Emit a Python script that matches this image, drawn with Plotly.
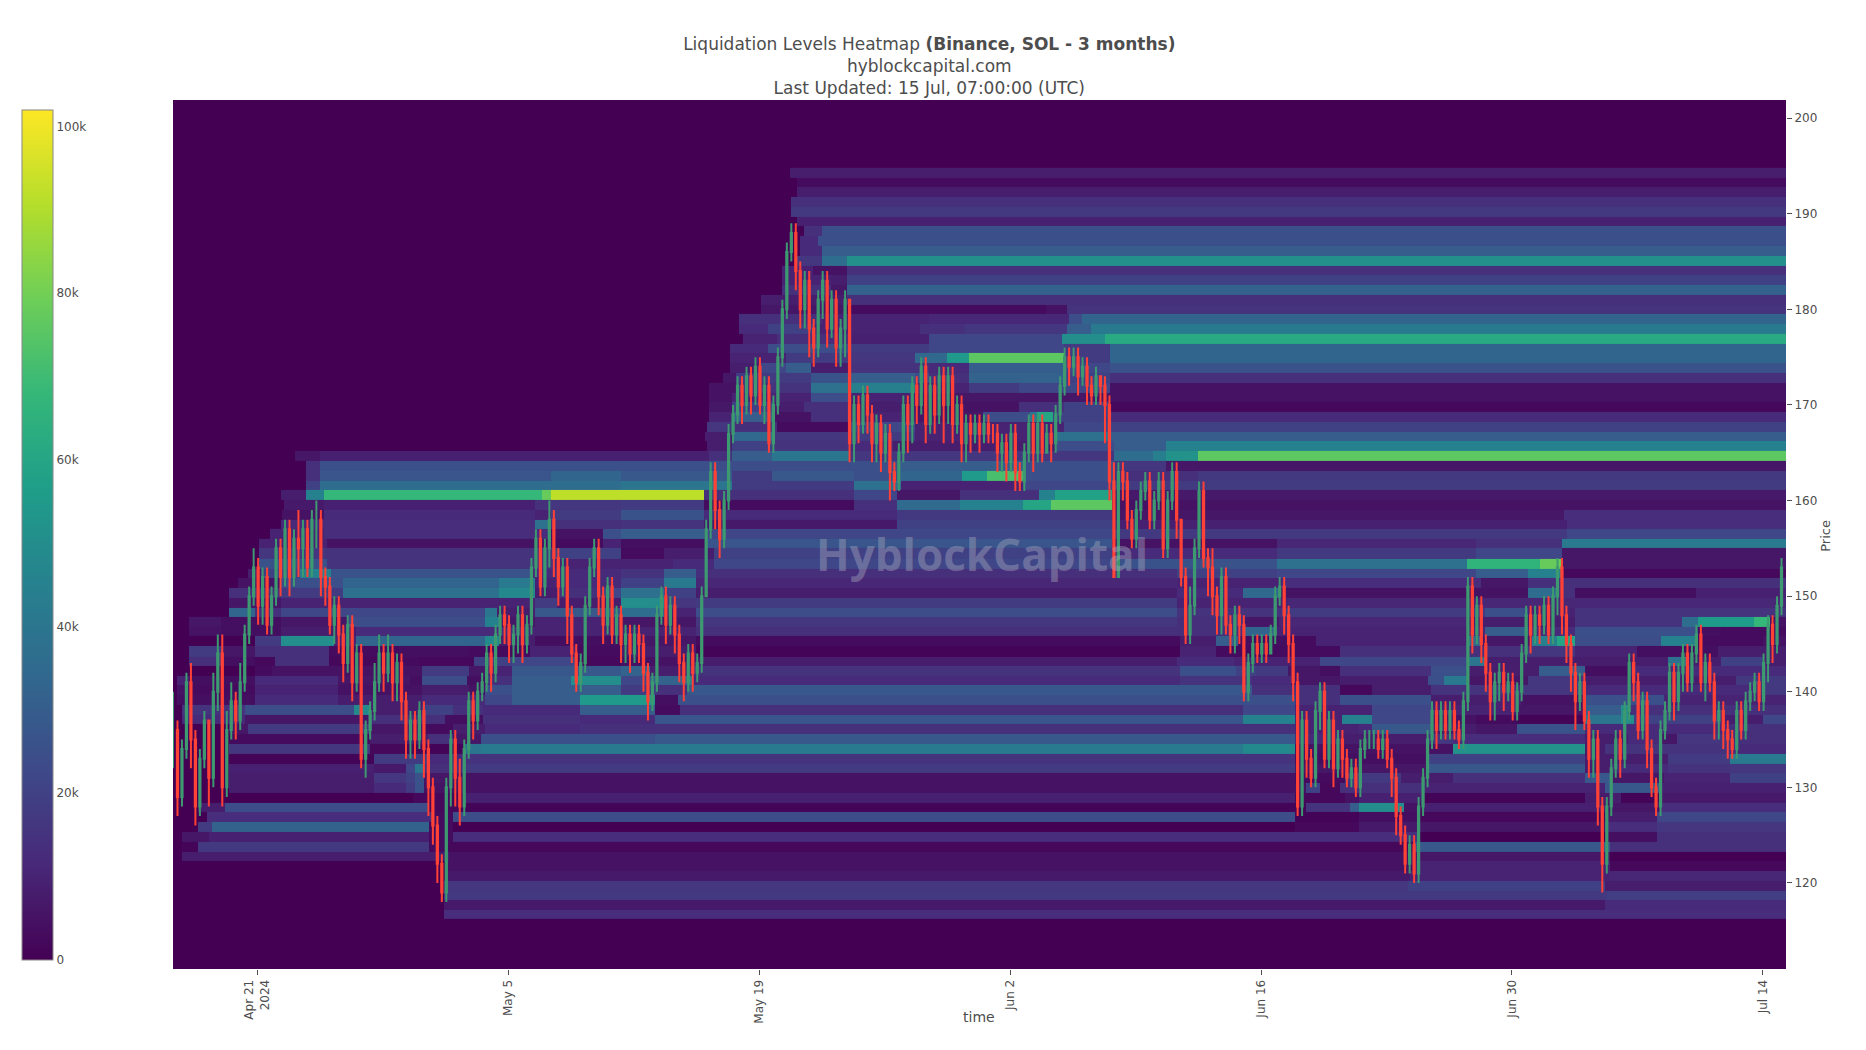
import numpy as np
import pandas as pd
import plotly.graph_objects as go

FONT = "DejaVu Sans"
START = pd.Timestamp("2024-04-16 07:00:00")
END = pd.Timestamp("2024-07-15 07:00:00")

# Candles, one every 6 hours, four values per day
closes = [
136,129,134,141, 135,128,133,137, 131,140,144,130, 136,139,137,141, 146,150,153,149,
152,147,150,155, 152,157,152,156, 155,157,153,158, 158,152,151,147, 149,146,143,147,
141,144,133,136, 138,141,144,142, 144,141,143,139, 135,137,135,138, 134,130,126,122,
119,130,135,131, 128,134,139,137, 140,141,144,142, 146,148,147,145, 146,148,145,147,
153,156,151,155, 158,154,151,153, 148,144,141,143, 149,153,155,150, 147,151,146,148,
145,146,144,146, 145,142,139,141, 148,150,147,149, 146,143,141,144, 142,143,150,157,
163,159,156,160, 167,169,172,170, 173,171,174,170, 172,166,170,175, 180,186,188,184,
180,183,178,176, 181,183,178,181, 176,178,181,166, 170,168,171,169, 166,168,165,167,
163,162,165,170, 168,172,170,174, 168,172,169,173, 170,173,168,170, 166,168,167,168,
167,168,167,167, 165,166,164,167, 163,162,165,168, 165,168,165,167, 166,169,172,175,
174,175,173,174, 172,171,173,172, 170,162,152,163, 162,158,156,159, 161,162,158,160,
162,155,160,163, 158,152,146,149, 155,161,154,153, 150,148,152,147, 146,148,147,140,
143,145,144,145, 144,146,150,151, 148,145,141,128, 137,133,131,138, 140,133,137,132,
135,133,131,132, 130,134,135,135, 135,134,135,133, 131,127,125,122, 124,121,128,131,
135,138,136,138, 136,138,136,135, 139,151,146,149, 145,142,139,141, 142,140,141,138,
140,144,148,146, 148,147,149,146, 150,153,148,145, 142,139,141,137, 133,135,128,122,
128,132,135,133, 138,143,141,136, 139,134,130,128, 136,138,142,139, 142,144,141,144,
146,141,143,141, 137,138,136,135, 134,138,136,139, 140,141,139,143, 147,145,149,153,
]
highs = [
140,137,135,142, 143,136,134,138, 134,142,146,146, 138,141,140,143, 147,151,155,154,
153,153,151,156, 156,158,158,157, 159,158,158,159, 160,159,153,152, 150,150,147,148,
148,145,145,137, 139,143,146,145, 146,145,144,144, 140,138,138,139, 139,135,131,127,
123,131,136,136, 133,135,140,140, 141,142,145,145, 147,149,149,148, 147,149,149,148,
154,157,157,156, 160,159,155,154, 154,149,145,144, 150,154,156,156, 151,152,152,149,
149,147,147,147, 147,146,143,142, 149,151,151,150, 150,147,144,145, 145,144,151,158,
164,164,160,161, 168,170,173,173, 174,174,175,175, 173,173,171,176, 181,187,189,189,
185,184,184,179, 182,184,184,182, 182,179,182,181, 171,171,172,172, 170,169,169,168,
168,164,166,171, 171,173,173,175, 175,173,173,174, 174,174,174,171, 171,169,169,169,
169,169,169,168, 168,167,167,168, 168,164,166,169, 169,169,169,168, 168,170,173,176,
176,176,176,175, 175,173,174,173, 173,171,164,164, 164,163,159,160, 162,163,163,161,
163,163,161,164, 164,158,153,151, 156,162,162,155, 155,151,153,153, 148,149,149,148,
144,146,146,146, 146,147,151,152, 152,149,146,142, 138,138,134,139, 141,141,138,138,
136,136,134,133, 133,135,136,136, 136,136,136,136, 134,132,128,126, 125,125,129,132,
136,139,139,139, 139,139,139,137, 140,152,152,150, 150,146,143,142, 143,143,142,142,
141,145,149,149, 149,149,150,150, 151,154,154,149, 146,143,142,142, 138,136,136,129,
129,133,136,136, 139,144,144,142, 140,140,135,131, 137,139,143,143, 143,145,145,145,
147,147,144,144, 142,139,139,137, 136,139,139,140, 141,142,142,144, 148,148,150,154,
]
lows = [
132,127,128,133, 132,126,127,132, 128,130,138,128, 129,135,135,136, 140,145,149,147,
147,146,146,149, 150,151,150,151, 152,152,152,152, 155,150,149,146, 145,144,141,142,
139,140,132,131, 135,137,140,140, 141,139,139,137, 133,133,133,134, 131,127,124,120,
118,118,128,128, 126,127,133,135, 136,139,140,140, 141,145,145,143, 143,144,143,144,
146,152,150,150, 153,152,149,150, 145,143,140,140, 142,148,152,148, 145,146,145,145,
143,143,142,143, 143,140,137,138, 140,147,145,146, 144,141,139,140, 140,141,142,150,
156,157,154,155, 159,166,168,168, 169,169,170,169, 168,165,165,169, 174,179,185,182,
178,178,175,174, 175,179,176,177, 174,174,175,164, 164,166,167,167, 164,164,163,164,
160,161,161,164, 165,166,168,169, 166,167,167,168, 166,168,166,167, 164,164,165,166,
165,166,166,166, 163,163,162,163, 161,161,161,164, 163,164,164,165, 164,165,168,171,
172,173,171,172, 170,170,170,170, 166,160,152,152, 160,157,155,155, 158,160,157,157,
159,154,154,159, 156,151,145,145, 148,154,153,150, 148,146,146,146, 144,144,145,139,
139,142,143,143, 143,144,145,149, 146,143,139,127, 127,131,130,130, 136,132,132,130,
131,131,130,130, 129,129,133,134, 134,133,133,132, 129,125,124,121, 121,120,120,127,
130,134,134,135, 135,135,135,134, 134,138,144,145, 143,140,137,137, 139,138,139,137,
137,139,143,144, 145,145,146,145, 145,148,146,143, 140,136,138,136, 131,131,126,119,
121,127,131,131, 132,137,139,135, 135,132,129,127, 127,135,137,137, 138,140,140,140,
143,140,139,140, 135,135,134,133, 133,133,135,135, 138,139,138,138, 141,143,144,148,
]

# Heatmap price levels, top to bottom
level_prices = [
194.3,193.3,192.3,191.2,190.2,189.2,188.2,187.2,186.1,185.1,184.1,183.1,182.0,181.0,180.0,179.0,178.0,
176.9,175.9,174.9,173.9,172.9,171.8,170.8,169.8,168.8,167.7,166.7,165.7,164.7,163.7,162.6,161.6,160.6,
159.6,158.5,157.5,156.5,155.5,154.5,153.4,152.4,151.4,150.4,149.3,148.3,147.3,146.3,145.3,144.2,143.2,
142.2,141.2,140.2,139.1,138.1,137.1,136.1,135.0,134.0,133.0,132.0,131.0,129.9,128.9,127.9,126.9,125.9,
124.8,123.8,122.8,121.8,120.8,119.7,118.7,117.7,116.7,
]

# Each level: [day since start of the window, liquidation thousands] holding until the next pair
levels_upper = [
[[34.2,8]],
[[34.6,3]],
[[34.6,8]],
[[34.3,14]],
[[34.3,17]],
[[34.6,9]],
[[35,14],[36,25]],
[[34.8,12],[35.8,25]],
[[34.8,12],[36,30]],
[[34.6,16],[36,36],[37.4,51]],
[[33.8,10],[35.5,5],[37.4,14]],
[[33.8,10],[36.5,8],[37.4,20]],
[[33.8,14],[36.5,6],[37.4,32]],
[[32.6,8],[37.4,14]],
[[32.6,6],[37.4,3],[48.5,5],[49.7,15]],
[[31.4,14],[36,10],[42,11],[49.8,24],[50.5,33]],
[[31.4,12],[33,20],[35.5,10],[41.5,14],[44,16],[49.7,30],[51,42]],
[[31.6,10],[33.5,14],[37.5,9],[42,22],[49.4,50],[51.8,62]],
[[30.9,12],[33,24],[37.5,18],[42,22],[49.5,18],[52.1,33]],
[[30.9,10],[34,18],[37.6,16],[41.2,34],[43,55],[44.2,76],[49.5,18],[52.1,33]],
[[30.9,8],[32.5,22],[34,30],[35.4,8],[37.6,15],[42,12],[44.2,30],[49.5,22],[52.1,26]],
[[30.5,6],[31.2,18],[35.4,26],[37.6,30],[41.2,24],[42,14],[44.2,32],[49.5,20],[52.1,14]],
[[29.7,5],[31.2,15],[35.4,38],[37.6,44],[41.2,10],[44.2,18],[47,22],[52.1,5]],
[[29.7,5],[31,10],[35.4,24],[37.6,10],[41.2,6],[52.1,5]],
[[29.7,6],[31,20],[33.3,8],[35,14],[37.6,8],[41.2,5],[47,14],[49.5,20],[52.1,2]],
[[29.7,10],[31,30],[33.3,5],[35.4,14],[37.6,10],[41.2,6],[45,24],[47.6,42],[48,60],[48.9,20],[52.1,12]],
]
levels_middle = [
[[29.6,16],[31,14],[33.5,3],[37.6,22],[41.2,10],[49.5,22],[52.1,20]],
[[29.5,8],[31,34],[33.2,16],[37.6,18],[41.2,10],[49,38],[52.1,30]],
[[29.6,8],[31,20],[33.2,15],[37.6,12],[40,8],[49,24],[52.3,30],[55.2,45]],
[[6.65,6],[8,9],[29.7,14],[31,30],[33.2,40],[37.6,16],[52.3,36],[54.5,44],[55.2,52],[57,76]],
[[7.2,14],[8,25],[29.7,24],[37.6,25],[40.4,30],[47.2,25],[52.3,16],[55.2,6]],
[[7.2,14],[8,27],[20.9,33],[24.83,28],[31,18],[33.2,28],[37.8,25],[40.4,33],[43.8,55],[45.2,72],[47.2,25],[52.3,14],[57,17]],
[[7.2,20],[8,36],[24.83,40],[31,18],[37.8,38],[40.4,10],[47.2,22],[52.3,18]],
[[5.8,8],[7.2,45],[8.2,68],[20.4,78],[20.9,92],[29.4,14],[37.8,22],[40.2,6],[43.7,14],[48.1,45],[49,58],[52.2,7]],
[[6,7],[8.2,9],[20,14],[20.9,16],[24.83,18],[29.4,3],[37.8,14],[40.2,35],[43.7,45],[47.2,60],[48.8,76],[52.2,5]],
[[5.9,5],[8.2,12],[20,10],[20.9,18],[24.83,26],[29.4,12],[40.2,17],[52.2,6],[77.4,13]],
[[5.8,12],[8.2,13],[20,38],[20.9,14],[24.83,15],[29.4,7],[40.2,20],[52.2,9],[77.6,13]],
[[5.2,10],[8.2,13],[20.9,5],[23.8,25],[24.83,30],[29.4,22],[52.2,17],[77.6,22]],
[[4.6,10],[8.4,5],[21,3],[23.8,10],[24.83,4],[29.5,27],[52.2,5],[61.4,11],[72.5,14],[77.3,42]],
[[4.6,16],[8.3,15],[21,20],[24.83,3],[27.2,8],[30,20],[52.2,12],[61.4,17],[72.5,22],[77.3,6]],
[[4.6,26],[8.4,15],[21,10],[27.7,12],[30,22],[52.2,26],[61.4,38],[72,66],[76.1,78],[77.3,6]],
[[4,8],[4.7,20],[6.9,45],[8.6,26],[19.8,12],[24.83,15],[27.2,30],[29,14],[55.8,20],[61.4,22],[72.5,30],[75.4,45],[77.3,2]],
[[3.4,5],[5.8,25],[9.3,33],[18,42],[20,10],[21.2,12],[24.83,20],[27.2,42],[29,11],[55.8,10],[61.7,13],[72.8,6],[75.4,14]],
[[2.9,14],[5.8,18],[9.3,38],[18,48],[20,8],[21.2,14],[23.8,22],[24.83,38],[27.2,20],[29,8],[55.8,12],[59.5,34],[61.6,5],[75.4,36],[77,14],[78,4],[84.8,9]],
[[2.9,6],[5.8,10],[20,18],[21.2,8],[24.83,50],[27.2,16],[29,18],[55.8,10],[62,11]],
[[2.9,33],[4.4,14],[5.8,22],[17.2,40],[17.9,8],[20,28],[24.83,36],[27.2,10],[29,24],[55.8,15],[61.7,18],[73,25],[75.4,10],[78,15]],
[[0.7,6],[2.5,4],[5.8,6],[9.6,24],[17.2,45],[18,6],[20,10],[24.83,6],[29,16],[55.8,14],[59.5,6],[61.5,11],[72,8],[78,15],[84,36],[84.9,56],[88,68],[88.9,5]],
[[0.7,5],[2.5,4],[5.8,8],[10,12],[19.8,10],[29,14],[59.5,33],[61.3,10],[72,11],[73,30],[75.4,12],[78,25],[84.9,4],[86.2,3]],
[[4.45,18],[5.8,50],[8.8,10],[10,33],[17.2,48],[18,8],[20,4],[24.83,6],[29,3],[56,8],[58,30],[59.2,4],[62.2,3],[63.6,10],[72,35],[72.8,6],[75.6,45],[77,60],[78,24],[82.8,45],[84.9,3],[88.5,5]],
[[0.7,18],[2.6,6],[4.4,14],[8.5,3],[12.4,4],[16.3,3],[19.7,10],[22.3,3],[24.83,8],[29,1],[56,10],[58,3],[64.9,14],[75.4,16],[78,10],[81.5,4],[86,8]],
[[0.7,14],[2.6,4],[4.4,2],[5.5,14],[8.5,2],[12.4,3],[13.5,2],[16.6,20],[18.7,22],[22.3,2],[24.83,5],[28.6,8],[55.8,12],[59,10],[63.8,22],[72.1,40],[73,8],[83.2,38],[84.2,8],[86.2,20],[88.6,8]],
[[4.4,3],[5.3,5],[13.7,18],[16.3,6],[17.3,10],[18.7,28],[24.83,32],[26.4,8],[28.6,15],[56,25],[59.1,20],[60.2,18],[62,6],[63.8,4],[64.9,14],[70,25],[72.1,8],[76,30],[78.6,4],[81,12]],
]
levels_lower = [
[[0,10],[0.7,4],[4.4,12],[9,6],[13,4],[13.7,24],[16.2,4],[17.3,14],[18.7,30],[22,50],[24.83,22],[26.4,32],[28.5,45],[28.8,12],[56,15],[60,12],[62.2,6],[64.9,8],[69.8,25],[70.7,42],[72.1,6],[75.4,16],[78.6,8],[87,17]],
[[0,5],[0.7,3],[4.4,10],[9,5],[13.7,8],[16.3,5],[17.2,25],[18.7,30],[24.83,18],[26.8,14],[28.5,28],[59,28],[60,14],[64.9,2],[66.7,8],[70,15],[75,16],[78.6,12],[88.4,17]],
[[0,4],[4.4,12],[9,8],[13.7,12],[17.2,22],[18.7,30],[22.5,55],[26.7,4],[28,25],[62.4,14],[64.9,25],[70,8],[73.2,10],[75,5],[78.6,25],[83,10]],
[[0.3,15],[3.8,24],[9.9,48],[10.8,8],[13.7,20],[15.4,14],[17.1,12],[22.5,30],[26.7,3],[28.1,14],[59.5,22],[62.4,10],[66.7,22],[70,10],[74.8,6],[78.6,30],[80.6,50],[81,14]],
[[0.3,12],[3.8,6],[10.8,14],[15,4],[17.1,14],[22.5,12],[26.7,27],[59.5,45],[62.4,10],[65,45],[66.7,22],[70,5],[72.5,3],[74.8,1],[78.6,40],[80.6,50],[81.3,20],[86.2,8],[88.5,22]],
[[2.9,6],[4,18],[10.8,6],[13.7,3],[15.4,8],[17.2,12],[22.5,14],[59.5,14],[62.4,10],[66,12],[66.7,28],[70,8],[72.5,6],[74.8,26],[78.6,12],[86.7,14]],
[[2.9,3],[10.8,8],[14,14],[15.4,6],[17,25],[26.7,28],[62.4,12],[64.9,8],[69.8,16],[71.2,13],[78.6,8],[81,12],[82.8,6],[83.7,16],[86.7,14]],
[[2.9,16],[10.8,2],[14,1],[16.1,40],[17,42],[59.5,48],[62.4,5],[71.2,52],[78.6,8],[79.7,15],[86.7,12]],
[[2.9,1],[11,18],[14,12],[16.1,15],[62.4,4],[69.8,20],[78.6,8],[83.2,18],[86.7,42]],
[[2.9,9],[11,7],[12.8,22],[13.3,40],[13.8,14],[16.1,18],[62.4,6],[69.8,28],[78.6,8],[80.1,12],[83.2,15],[86.7,16]],
[[2.9,8],[11,16],[12.8,20],[13.3,26],[13.8,6],[16.1,5],[62.4,3],[65.2,17],[68.3,8],[71.2,14],[78.6,28],[80,6],[83,10],[86.7,20]],
[[2.9,8],[11,12],[12.8,18],[13.3,26],[13.8,5],[16.1,5],[63,20],[63.8,2],[64.9,14],[69.6,10],[79.7,28],[82.8,9]],
[[2.9,0],[13.2,2],[16,9],[62.4,2],[65.2,5],[66,9],[69.6,1],[78.6,8],[80.6,1],[82.8,7]],
[[1.2,8],[2.7,24],[14.1,2],[16,1],[63,15],[65.5,30],[66,50],[68.5,5],[69.6,9],[79.7,6],[82.8,13]],
[[1.7,13],[14.3,3],[15.4,24],[62.4,1],[66,4],[69.4,2],[79.7,8],[82.6,22]],
[[1.2,18],[2,32],[14.1,3],[15.4,0],[62.4,2],[66,7],[69.4,6],[79.7,13],[82.6,16]],
[[0.3,6],[1.8,9],[14.1,3],[15.4,13],[68.7,14],[69.4,0],[79.7,4],[82.6,14]],
[[0.3,1],[1.2,17],[14.1,3],[15.2,2],[69.1,28],[80,14]],
[[0.3,8],[15.2,5],[69,6],[80,0]],
[[15,5],[69,10],[80,2]],
[[15,7],[68.8,10],[79.9,11]],
[[14.9,16],[68.7,20],[79.7,8]],
[[14.9,17],[79.8,19]],
[[14.9,7],[79.7,12]],
[[14.9,13]],
]
levels = levels_upper + levels_middle + levels_lower

# The day readings above run about 0.2 day early against the time axis
READING_OFFSET_DAYS = 0.2
columns_days = np.arange(0.05, 90, 0.1)
z = []
for row in levels:
    starts = [p[0] for p in row]
    values = [0] + [p[1] * 1000 for p in row]
    z.append([values[np.searchsorted(starts, d - READING_OFFSET_DAYS, side="right")] for d in columns_days])
heat_x = [START + pd.Timedelta(days=float(d)) for d in columns_days]

candle_x = [START + pd.Timedelta(hours=6 * i) for i in range(len(closes))]
opens = [closes[0]] + closes[:-1]

fig = go.Figure()
fig.add_trace(go.Heatmap(
    x=heat_x, y=level_prices, z=z, colorscale="Viridis", zmin=0, zmax=102000,
    colorbar=dict(
        x=-0.0938, xanchor="left", xpad=0, ypad=0, thickness=31, thicknessmode="pixels",
        lenmode="pixels", len=850, y=0.4995, yanchor="middle",
        tickvals=[0, 20000, 40000, 60000, 80000, 100000],
        ticktext=["0", "20k", "40k", "60k", "80k", "100k"],
        ticks="", outlinecolor="#888", outlinewidth=1, borderwidth=0,
        tickfont=dict(size=12, family=FONT, color="#4d4d4d"),
    ),
    hoverinfo="skip", showlegend=False,
))
fig.add_trace(go.Candlestick(
    x=candle_x, open=opens, high=highs, low=lows, close=closes,
    increasing=dict(line=dict(color="#3D9970", width=2), fillcolor="#3D9970"),
    decreasing=dict(line=dict(color="#FF4136", width=2), fillcolor="#FF4136"),
    showlegend=False,
))
fig.add_annotation(
    text="<b>HyblockCapital</b>", xref="paper", yref="paper", x=0.5015, y=0.4777,
    xanchor="center", yanchor="middle", showarrow=False,
    font=dict(size=44, family="Open Sans", color="rgba(170,170,190,0.42)"),
)
fig.add_annotation(
    text="time", xref="paper", yref="paper", x=0.4998, y=-0.055, xanchor="center", yanchor="middle",
    showarrow=False, font=dict(size=14, family=FONT, color="#4d4d4d"),
)
fig.add_annotation(
    text="Price", xref="paper", yref="paper", x=1.0245, y=0.498, xanchor="center", yanchor="middle",
    showarrow=False, textangle=-90, font=dict(size=13, family=FONT, color="#4d4d4d"),
)
fig.update_layout(
    width=1850, height=1034, autosize=False,
    margin=dict(l=165, r=72, t=92, b=73),
    paper_bgcolor="white", plot_bgcolor="#440154", boxgap=0.6,
    font=dict(family=FONT, size=12, color="#4d4d4d"),
    title=dict(
        text="Liquidation Levels Heatmap <b>(Binance, SOL - 3 months)</b><br>hyblockcapital.com<br>"
             "Last Updated: 15 Jul, 07:00:00 (UTC)",
        x=0.498, xanchor="center", xref="container", y=0.9594, yanchor="middle",
        font=dict(size=17, family=FONT, color="#4d4d4d"),
    ),
    xaxis=dict(
        range=[START, END], rangeslider=dict(visible=False), showgrid=False, zeroline=False,
        tick0="2024-04-21", dtick=14 * 86400000, tickangle=-90, ticks="outside", ticklen=5,
        tickcolor="#4d4d4d",
    ),
    yaxis=dict(
        range=[111, 201.9], side="right", showgrid=False, zeroline=False, dtick=10,
        ticks="outside", ticklen=5, tickcolor="#4d4d4d",
    ),
)
fig.write_html("out.html")
